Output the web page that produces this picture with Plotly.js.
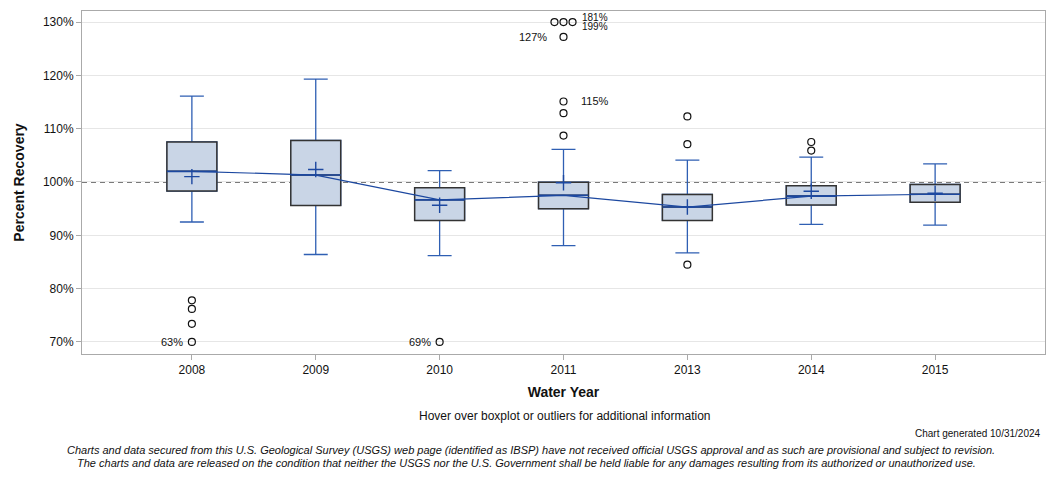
<!DOCTYPE html>
<html>
<head>
<meta charset="utf-8">
<script src="https://cdn.plot.ly/plotly-3.0.1.min.js"></script>
<style>
  html, body { margin: 0; padding: 0; background: #fff; }
  #chart { width: 1056px; height: 480px; }
</style>
</head>
<body>
<div id="chart"></div>
<script>
// ---- Data ----
const years      = ['2008', '2009', '2010', '2011', '2013', '2014', '2015'];
const q1         = [98.3, 95.6, 92.8, 95.0, 92.8, 95.7, 96.2];
const medians    = [102.0, 101.3, 96.65, 97.5, 95.3, 97.35, 97.7];
const q3         = [107.5, 107.8, 98.9, 99.95, 97.65, 99.3, 99.55];
const lowWhisker = [92.5, 86.4, 86.2, 88.05, 86.7, 92.05, 91.9];
const upWhisker  = [116.1, 119.3, 102.15, 106.1, 104.1, 104.65, 103.4];
const means      = [101.0, 102.35, 95.65, 99.85, 95.3, 98.25, 97.9];

// outliers (year, value in %, label shown next to it or '')
const outYear  = ['2008', '2008', '2008', '2008', '2010', '2011', '2011', '2011', '2011', '2011', '2011', '2011', '2013', '2013', '2013', '2014', '2014'];
const outValue = [77.8, 76.2, 73.4, 63, 69, 108.7, 112.9, 115.1, 127.2, 150, 181, 199, 112.3, 107.1, 84.5, 107.5, 105.9];
const outLabel = ['', '', '', '63%', '69%', '', '', '115%', '127%', '', '181%', '199%', '', '', '', '', ''];

const refValue = 100;
const axisMin = 70, axisMax = 130;

// ---- Styling / layout helpers ----
const boxWidth = 0.403;
const xpos = years.map((_, i) => i);
const idx = y => years.indexOf(y);

// clip outliers to visible scale, spread clipped duplicates
const dispY = outValue.map(v => Math.min(axisMax, Math.max(axisMin, v)));
const dispX = outYear.map(idx);
const groups = {};
outValue.forEach((v, i) => {
  if (v > axisMax || v < axisMin) {
    const key = outYear[i] + '_' + (v > axisMax ? 'hi' : 'lo');
    (groups[key] = groups[key] || []).push(i);
  }
});
Object.values(groups).forEach(g => {
  if (g.length > 1) {
    const step = 0.073;
    g.forEach((pt, k) => { dispX[pt] += (k - (g.length - 1) / 2) * step; });
  }
});

const whiskerBlue = '#2f5fb3';
const medianBlue = '#1c48a0';
const boxFill = '#c9d5e6';

const traces = [
  { // whiskers + caps (blue)
    type: 'box', x: xpos, q1: q1, median: medians, q3: q3,
    lowerfence: lowWhisker, upperfence: upWhisker,
    width: boxWidth, whiskerwidth: 0.48,
    fillcolor: boxFill, line: { color: whiskerBlue, width: 1.3 },
    boxpoints: false, hoverinfo: 'skip', showlegend: false
  },
  { // box body (dark outline)
    type: 'box', x: xpos, q1: q1, median: medians, q3: q3,
    lowerfence: q1, upperfence: q3,
    width: boxWidth, whiskerwidth: 0,
    fillcolor: boxFill, line: { color: '#333333', width: 1.5 },
    boxpoints: false, hoverinfo: 'skip', showlegend: false
  },
  { // median connecting line
    type: 'scatter', mode: 'lines', x: xpos, y: medians,
    line: { color: medianBlue, width: 1.2 }, hoverinfo: 'skip', showlegend: false
  },
  { // means
    type: 'scatter', mode: 'markers', x: xpos, y: means,
    marker: { symbol: 'cross-thin', size: 11, line: { color: medianBlue, width: 1.4 } },
    hoverinfo: 'skip', showlegend: false
  },
  { // outliers
    type: 'scatter', mode: 'markers', x: dispX, y: dispY,
    marker: { symbol: 'circle-open', size: 7, color: '#111', line: { width: 1.2, color: '#111' } },
    hoverinfo: 'skip', showlegend: false, cliponaxis: false
  }
];

// reference line + median segments across each box (blue)
const shapes = [{
  type: 'line', xref: 'paper', yref: 'y', x0: 0, x1: 1, y0: refValue, y1: refValue,
  line: { color: '#7a7a7a', width: 2, dash: '5px,4px' }, layer: 'below'
}];
xpos.forEach((x, i) => {
  shapes.push({
    type: 'line', xref: 'x', yref: 'y', x0: x - boxWidth / 2, x1: x + boxWidth / 2,
    y0: medians[i], y1: medians[i], line: { color: medianBlue, width: 1.6 }, layer: 'above'
  });
});

// outlier labels
const annotations = [];
const hiStack = {};
outLabel.forEach((t, i) => {
  if (!t) return;
  const clippedHigh = outValue[i] > axisMax;
  const left = (t === '63%' || t === '69%' || t === '127%');
  let x = dispX[i], yshift = 0;
  if (clippedHigh) {
    const g = groups[outYear[i] + '_hi'];
    x = Math.max(...g.map(p => dispX[p]));
    const k = hiStack[outYear[i]] = (hiStack[outYear[i]] || 0) + 1;
    yshift = k === 1 ? 5 : -4;
  }
  const far = (t === '127%' || t === '115%');
  annotations.push({
    x: x, y: dispY[i], xref: 'x', yref: 'y', text: t, showarrow: false,
    xanchor: left ? 'right' : 'left', yanchor: 'middle',
    xshift: left ? (far ? -15 : -7) : (far ? 15 : 7), yshift: yshift,
    font: { family: 'Arial, Liberation Sans, sans-serif', size: clippedHigh ? 10 : 11, color: '#111' }
  });
});

const txtFont = { family: 'Arial, Liberation Sans, sans-serif', color: '#111' };
annotations.push(
  { xref: 'paper', yref: 'paper', x: 0.501, y: -0.181, text: 'Hover over boxplot or outliers for additional information',
    showarrow: false, xanchor: 'center', yanchor: 'middle', font: Object.assign({}, txtFont, { size: 12 }) },
  { xref: 'paper', yref: 'paper', x: 0.998, y: -0.233, text: 'Chart generated 10/31/2024',
    showarrow: false, xanchor: 'right', yanchor: 'middle', font: Object.assign({}, txtFont, { size: 10 }) },
  { xref: 'paper', yref: 'paper', x: 0.466, y: -0.28,
    text: '<i>Charts and data secured from this U.S. Geological Survey (USGS) web page (identified as IBSP) have not received official USGS approval and as such are provisional and subject to revision.</i>',
    showarrow: false, xanchor: 'center', yanchor: 'middle', font: Object.assign({}, txtFont, { size: 11 }) },
  { xref: 'paper', yref: 'paper', x: 0.462, y: -0.318,
    text: '<i>The charts and data are released on the condition that neither the USGS nor the U.S. Government shall be held liable for any damages resulting from its authorized or unauthorized use.</i>',
    showarrow: false, xanchor: 'center', yanchor: 'middle', font: Object.assign({}, txtFont, { size: 11 }) }
);

const layout = {
  width: 1056, height: 480,
  margin: { l: 82, r: 11, t: 11, b: 126 },
  paper_bgcolor: '#fff', plot_bgcolor: '#fff',
  boxmode: 'overlay',
  showlegend: false,
  font: { family: 'Arial, Liberation Sans, sans-serif', size: 12, color: '#222' },
  xaxis: {
    type: 'linear', range: [-0.887, 6.887],
    tickvals: xpos, ticktext: years,
    showgrid: false, zeroline: false,
    showline: true, linecolor: '#aaa', linewidth: 1, mirror: true,
    ticks: 'outside', ticklen: 5, tickcolor: '#aaa',
    tickfont: { size: 12, color: '#111' },
    title: { text: '<b>Water Year</b>', font: { size: 14, color: '#111' }, standoff: 10 }
  },
  yaxis: {
    range: [67.74, 132.07], dtick: 10, tick0: 70, ticksuffix: '%',
    showgrid: true, gridcolor: '#e6e6e6', gridwidth: 1, zeroline: false,
    showline: true, linecolor: '#aaa', linewidth: 1, mirror: true,
    ticks: 'outside', ticklen: 5, tickcolor: '#aaa',
    tickfont: { size: 12, color: '#111' },
    title: { text: '<b>Percent Recovery</b>', font: { size: 14, color: '#111' }, standoff: 14 }
  },
  shapes: shapes,
  annotations: annotations
};

Plotly.newPlot('chart', traces, layout, { displayModeBar: false, staticPlot: true });
</script>
</body>
</html>
